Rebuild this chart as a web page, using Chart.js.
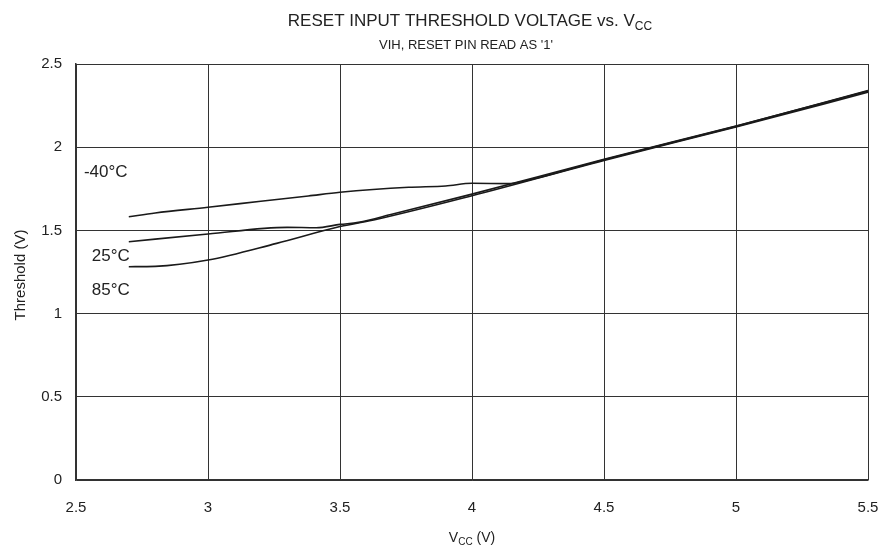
<!DOCTYPE html>
<html>
<head>
<meta charset="UTF-8">
<title>Reset Input Threshold Voltage vs. Vcc</title>
<script src="https://cdn.jsdelivr.net/npm/chart.js"></script>
<style>
  html, body { margin: 0; padding: 0; background: #fff; }
  #wrap { width: 884px; height: 550px; position: relative; }
</style>
</head>
<body>
<div id="wrap"><canvas id="chart"></canvas></div>
<script>
// values (Vcc in V, threshold in V)
const vccMinus40 = [2.7, 2.8, 3.0, 3.2, 3.38, 3.5, 3.76, 3.9, 4.0, 4.14, 4.2, 4.5, 5.0, 5.5];
const thrMinus40 = [1.582, 1.605, 1.639, 1.675, 1.707, 1.729, 1.759, 1.767, 1.783, 1.781, 1.797, 1.925, 2.125, 2.34];

const vcc25 = [2.7, 3.0, 3.3, 3.41, 3.5, 3.57, 3.7, 4.0, 4.5, 5.0, 5.5];
const thr25 = [1.432, 1.478, 1.518, 1.516, 1.536, 1.548, 1.598, 1.718, 1.928, 2.128, 2.337];

const vcc85 = [2.7, 2.8, 3.0, 3.26, 3.5, 3.64, 4.0, 4.5, 5.0, 5.5];
const thr85 = [1.282, 1.284, 1.322, 1.422, 1.523, 1.567, 1.708, 1.92, 2.122, 2.33];

const seriesNames = ['-40°C', '25°C', '85°C'];
const xTicks = [2.5, 3, 3.5, 4, 4.5, 5, 5.5];
const yTicks = [0, 0.5, 1, 1.5, 2, 2.5];

const FONT = "'Liberation Sans', Arial, sans-serif";

function pts(xs, ys) {
  return xs.map((x, i) => ({ x: x, y: ys[i] }));
}

// titles with subscript "CC" and the curve labels
const textPlugin = {
  id: 'texts',
  afterDraw(chart) {
    const ctx = chart.ctx;
    const xs = chart.scales.x, ys = chart.scales.y;
    ctx.save();
    ctx.fillStyle = '#222';
    ctx.textBaseline = 'alphabetic';

    // main title
    const big = '17px ' + FONT, small = '12px ' + FONT;
    const t1 = 'RESET INPUT THRESHOLD VOLTAGE vs. V', t2 = 'CC';
    ctx.font = big; const w1 = ctx.measureText(t1).width;
    ctx.font = small; const w2 = ctx.measureText(t2).width;
    let x0 = 470 - (w1 + w2) / 2;
    ctx.font = big; ctx.textAlign = 'left';
    ctx.fillText(t1, x0, 26);
    ctx.font = small; ctx.fillText(t2, x0 + w1, 30);

    // subtitle
    ctx.font = '13px ' + FONT; ctx.textAlign = 'center';
    ctx.fillText("VIH, RESET PIN READ AS '1'", 466, 49);

    // x axis title
    const a1 = 'V', a2 = 'CC', a3 = ' (V)';
    ctx.font = '14px ' + FONT; const aw1 = ctx.measureText(a1).width, aw3 = ctx.measureText(a3).width;
    ctx.font = '10px ' + FONT; const aw2 = ctx.measureText(a2).width;
    let ax = 472 - (aw1 + aw2 + aw3) / 2;
    ctx.textAlign = 'left';
    ctx.font = '14px ' + FONT; ctx.fillText(a1, ax, 542);
    ctx.font = '10px ' + FONT; ctx.fillText(a2, ax + aw1, 545);
    ctx.font = '14px ' + FONT; ctx.fillText(a3, ax + aw1 + aw2, 542);

    // y axis title
    ctx.save();
    ctx.translate(25, 275);
    ctx.rotate(-Math.PI / 2);
    ctx.textAlign = 'center';
    ctx.font = '15px ' + FONT;
    ctx.fillText('Threshold (V)', 0, 0);
    ctx.restore();

    // curve labels
    ctx.font = '17px ' + FONT; ctx.textAlign = 'left'; ctx.textBaseline = 'middle';
    ctx.fillText(seriesNames[0], xs.getPixelForValue(2.53), ys.getPixelForValue(1.85));
    ctx.fillText(seriesNames[1], xs.getPixelForValue(2.56), ys.getPixelForValue(1.347));
    ctx.fillText(seriesNames[2], xs.getPixelForValue(2.56), ys.getPixelForValue(1.14));
    ctx.restore();
  }
};

const lineStyle = {
  borderColor: '#1a1a1a',
  borderWidth: 1.6,
  pointRadius: 0,
  fill: false,
  cubicInterpolationMode: 'monotone'
};

new Chart(document.getElementById('chart'), {
  type: 'line',
  data: {
    datasets: [
      Object.assign({ label: seriesNames[0], data: pts(vccMinus40, thrMinus40) }, lineStyle),
      Object.assign({ label: seriesNames[1], data: pts(vcc25, thr25) }, lineStyle),
      Object.assign({ label: seriesNames[2], data: pts(vcc85, thr85) }, lineStyle)
    ]
  },
  options: {
    responsive: true,
    maintainAspectRatio: false,
    animation: false,
    layout: { padding: { top: 64, right: 16, left: 0, bottom: 0 } },
    plugins: {
      legend: { display: false },
      title: { display: false },
      tooltip: { enabled: false }
    },
    scales: {
      x: {
        type: 'linear',
        min: 2.5, max: 5.5,
        afterBuildTicks: s => { s.ticks = xTicks.map(v => ({ value: v })); },
        afterFit: s => { s.height = 70; s.paddingRight = 0; s.paddingLeft = 0; },
        grid: { color: '#333', lineWidth: 1, drawTicks: false },
        border: { color: '#333', width: 1.5 },
        ticks: { padding: 19, color: '#222', font: { family: FONT, size: 15 }, callback: v => String(v) }
      },
      y: {
        min: 0, max: 2.5,
        afterBuildTicks: s => { s.ticks = yTicks.map(v => ({ value: v })); },
        afterFit: s => { s.width = 76; s.paddingTop = 0; s.paddingBottom = 0; },
        grid: { color: '#333', lineWidth: 1, drawTicks: false },
        border: { color: '#333', width: 1.5 },
        ticks: { padding: 14, color: '#222', font: { family: FONT, size: 15 }, callback: v => String(v) }
      }
    }
  },
  plugins: [textPlugin]
});
</script>
</body>
</html>
